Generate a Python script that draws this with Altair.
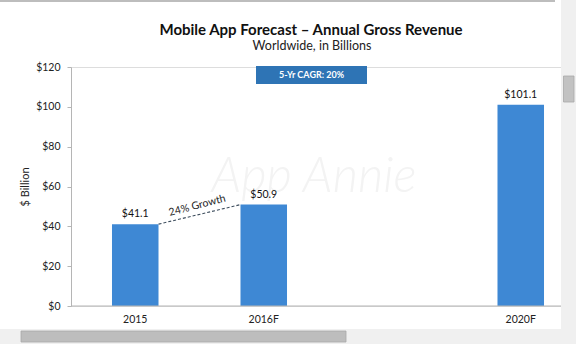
import altair as alt
import pandas as pd

# ---- data ----
years = ["2015", "2016F", "2020F"]
revenue = [41.1, 50.9, 101.1]
value_labels = ["$41.1", "$50.9", "$101.1"]
x_domain = ["2015", "2016F", "gap", "2020F"]
y_ticks = [0, 20, 40, 60, 80, 100, 120]
growth_pair = ["2015", "2016F"]
growth_label = "24% Growth"
cagr_label = "5-Yr CAGR: 20%"
title_text = "Mobile App Forecast \u2013 Annual Gross Revenue"
subtitle_text = "Worldwide, in Billions"
watermark_text = "App Annie"

W, H = 490, 239
FONT = "Lato"
BAR = "#3e88d4"
BOX = "#2e74b5"

df = pd.DataFrame({"year": years, "revenue": revenue, "label": value_labels})
g0 = revenue[years.index(growth_pair[0])]
g1 = revenue[years.index(growth_pair[1])]
growth_df = pd.DataFrame({"a": [growth_pair[0]], "b": [growth_pair[1]],
                          "v0": [g0], "v1": [g1], "vm": [(g0 + g1) / 2],
                          "t": [growth_label]})
one = pd.DataFrame({"k": [0]})

x_scale = alt.Scale(domain=x_domain, range=[0, 514], paddingInner=0.638, paddingOuter=0.319)
y_scale = alt.Scale(domain=[0, 120], nice=False)

x_axis = alt.Axis(title=None, domain=False, ticks=False, tickSize=0, labelAngle=0,
                  labelExpr="datum.value == 'gap' ? '' : datum.value",
                  labelFont=FONT, labelFontSize=10.5, labelColor="#222222", labelPadding=8)
y_axis = alt.Axis(title="$ Billion", values=y_ticks, tickCount=7, format="$,.0f", grid=False,
                  labelOverlap=False,
                  domainColor="#b5b5b5", tickColor="#b5b5b5", tickSize=4,
                  labelFont=FONT, labelFontSize=10.5, labelColor="#222222", labelPadding=7,
                  titleFont=FONT, titleFontSize=11, titleFontWeight="normal",
                  titleColor="#222222", titlePadding=5)

base = alt.Chart(df)

watermark = alt.Chart(one).mark_text(
    text=watermark_text, font=FONT, fontSize=49, fontStyle="italic", fontWeight=300,
    color="#f3f3f3", baseline="alphabetic", align="center"
).encode(x=alt.value(243), y=alt.value(125))

bars = base.mark_bar(color=BAR).encode(
    x=alt.X("year:N", scale=x_scale, sort=x_domain, axis=x_axis),
    y=alt.Y("revenue:Q", scale=y_scale, axis=y_axis),
)

labels = base.mark_text(font=FONT, fontSize=10.5, color="#111111", baseline="bottom", dy=-5).encode(
    x=alt.X("year:N", scale=x_scale, sort=x_domain, axis=x_axis),
    y=alt.Y("revenue:Q", scale=y_scale, axis=y_axis),
    text="label:N",
)

baseline_rule = alt.Chart(one).mark_rule(color="#b5b5b5", strokeWidth=1.2).encode(
    x=alt.value(0), x2=alt.value(W), y=alt.value(H)
)

growth_line = alt.Chart(growth_df).mark_rule(
    color="#3d4d5d", strokeDash=[3, 2], strokeWidth=1.1, xOffset=23.3, x2Offset=-23.3
).encode(
    x=alt.X("a:N", scale=x_scale, sort=x_domain, axis=x_axis),
    x2="b:N",
    y=alt.Y("v0:Q", scale=y_scale, axis=y_axis),
    y2="v1:Q",
)

growth_text = alt.Chart(growth_df).mark_text(
    font=FONT, fontSize=10.5, color="#222222", angle=345.3, xOffset=64.3, dy=-9,
    baseline="middle", align="center"
).encode(
    x=alt.X("a:N", scale=x_scale, sort=x_domain, axis=x_axis),
    y=alt.Y("vm:Q", scale=y_scale, axis=y_axis),
    text="t:N",
)

cagr_box = alt.Chart(one).mark_rect(color=BOX).encode(
    x=alt.value(185), x2=alt.value(296), y=alt.value(-1), y2=alt.value(17)
)
cagr_text = alt.Chart(one).mark_text(
    text=cagr_label, font=FONT, fontSize=9, fontWeight="bold", color="white",
    baseline="middle", align="center"
).encode(x=alt.value(240.5), y=alt.value(8))

title_mark = alt.Chart(one).mark_text(
    text=title_text, font=FONT, fontSize=15, fontWeight="bold", color="#111111",
    baseline="middle", align="center"
).encode(x=alt.value(240), y=alt.value(-37))
subtitle_mark = alt.Chart(one).mark_text(
    text=subtitle_text, font=FONT, fontSize=12.5, color="#222222",
    baseline="middle", align="center"
).encode(x=alt.value(241), y=alt.value(-21))

# window chrome visible in the reference screenshot (scrollbars)
right_strip = alt.Chart(one).mark_rect(color="#f0f0f0").encode(
    x=alt.value(W), x2=alt.value(W + 20), y=alt.value(-67), y2=alt.value(H + 40))
right_thumb = alt.Chart(one).mark_rect(color="#c2c2c2", stroke="#a8a8a8", strokeWidth=0.8).encode(
    x=alt.value(W + 2.5), x2=alt.value(W + 13), y=alt.value(9), y2=alt.value(35))
bottom_strip = alt.Chart(one).mark_rect(color="#f0f0f0").encode(
    x=alt.value(-71), x2=alt.value(W), y=alt.value(H + 23), y2=alt.value(H + 40))
bottom_thumb = alt.Chart(one).mark_rect(color="#bdbdbd", stroke="#a8a8a8", strokeWidth=0.8).encode(
    x=alt.value(-50), x2=alt.value(275), y=alt.value(H + 25), y2=alt.value(H + 36))
top_line = alt.Chart(one).mark_rect(color="#bdbdbd").encode(
    x=alt.value(-71), x2=alt.value(W - 6), y=alt.value(-67), y2=alt.value(-65))

chart = alt.layer(
    watermark, bars, labels, baseline_rule, growth_line, growth_text, cagr_box, cagr_text,
    title_mark, subtitle_mark,
    right_strip, right_thumb, bottom_strip, bottom_thumb, top_line,
).properties(
    width=W, height=H,
    autosize=alt.AutoSizeParams(type="none"),
    padding={"left": 71, "top": 67, "right": 15, "bottom": 38},
).configure_view(stroke=None).configure(background="white")

chart.save("out.html", embed_options={"renderer": "svg", "actions": False})
